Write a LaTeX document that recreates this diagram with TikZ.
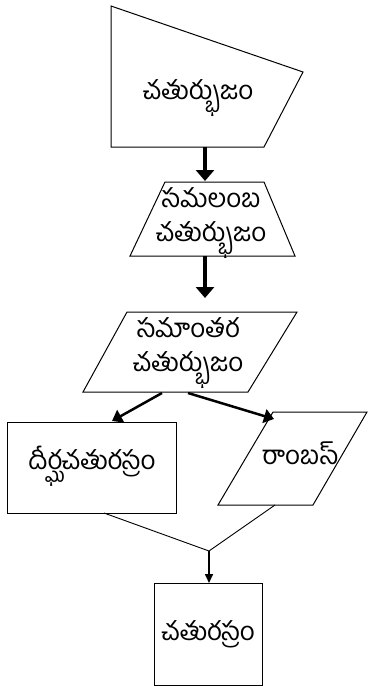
\documentclass[tikz,border=0pt]{standalone}
\usepackage{fontspec}
\newfontfamily\te[Script=Telugu]{Hind Guntur}
\usetikzlibrary{arrows.meta}
\begin{document}
\begin{tikzpicture}[x=1pt,y=-1pt,
  shapeline/.style={draw=black,line width=1pt,line join=miter},
  lbl/.style={font=\te\fontsize{26}{34}\selectfont,align=center,inner sep=0pt},
  bigarrow/.style={line width=3.5pt,-{Triangle[width=18pt,length=11pt]}},
  diagarrow/.style={line width=2.5pt,-{Triangle[width=14pt,length=10pt]}},
  thinarrow/.style={line width=1.6pt,-{Triangle[width=8pt,length=9pt]}},
  joinline/.style={line width=0.9pt}]
\useasboundingbox (0,0) rectangle (368,686);
% shape 1
\draw[shapeline] (111,6) -- (303,72) -- (264,147) -- (111,147) -- cycle;
\node[lbl] (t1) at (198,98) {చతుర్భుజం};
% shape 2 trapezoid
\draw[shapeline] (165,182) -- (264,182) -- (295,256) -- (130,256) -- cycle;
\node[lbl] (t2) at (211,223) {సమలంబ\\చతుర్భుజం};
% shape 3 parallelogram
\draw[shapeline] (127,312) -- (297,312) -- (248,392) -- (83,392) -- cycle;
\node[lbl] (t3) at (188,353) {సమాంతర\\చతుర్భుజం};
% rectangle
\draw[shapeline] (7,422) rectangle (176,513);
\node[lbl] (t4) at (92,466) {దీర్ఘచతురస్రం};
% rhombus
\draw[shapeline] (273,412) -- (367,412) -- (313,505) -- (218,505) -- cycle;
\node[lbl] (t5) at (300,453) {రాంబస్};
% square
\draw[shapeline] (154,583) rectangle (262,685);
\node[lbl] (t6) at (208,634) {చతురస్రం};
% connector coordinates
\coordinate (a1) at (205,147);
\coordinate (b1) at (205,181);
\coordinate (a2) at (205,256);
\coordinate (b2) at (205,298);
\coordinate (c1) at (162,393);
\coordinate (d1) at (112,421);
\coordinate (c2) at (188,393);
\coordinate (d2) at (274,419);
\coordinate (r1) at (104,513);
\coordinate (r2) at (275,505);
\coordinate (m) at (209,551);
\coordinate (s) at (209,583);
\draw[bigarrow] (a1) -- (b1);
\draw[bigarrow] (a2) -- (b2);
\draw[diagarrow] (c1) -- (d1);
\draw[diagarrow] (c2) -- (d2);
\draw[joinline] (r1) -- (m) -- (r2);
\draw[thinarrow] (m) -- (s);
\end{tikzpicture}
\end{document}
